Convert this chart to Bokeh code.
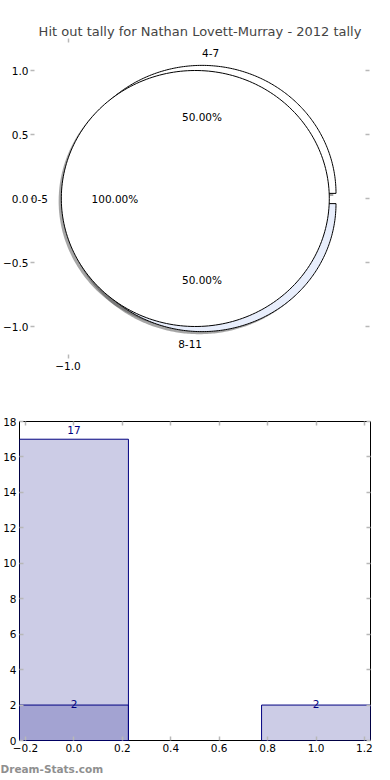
import numpy as np
from bokeh.plotting import figure
from bokeh.models import (ColumnDataSource, Range1d, FixedTicker, LinearAxis, Title,
                          LabelSet, CustomLabelingPolicy)
from bokeh.layouts import column, row
from bokeh.core.properties import value
from bokeh.embed import file_html
from bokeh.resources import INLINE

# ---------------- data ----------------
TITLE = "Hit out tally for Nathan Lovett-Murray - 2012 tally"
WATERMARK = "Dream-Stats.com"

inner_labels = ["0-5"]
inner_values = [1]
inner_colors = ["#ffffff"]
outer_labels = ["4-7", "8-11"]
outer_values = [1, 1]
outer_colors = ["#ffffff", "#e8eefc"]

bar_x = [0, 1]
bar_values = [17, 2]
overlay_x = [0]
overlay_values = [2]

pie_xticks = [-1.0]
pie_xtick_labels = ["\u22121.0"]
pie_yticks = [-1.0, -0.5, 0.0, 0.5, 1.0]
pie_ytick_labels = ["\u22121.0", "\u22120.5", "0.0", "0.5", "1.0"]

bar_xticks = [-0.2, 0.0, 0.2, 0.4, 0.6, 0.8, 1.0, 1.2]
bar_xtick_labels = ["\u22120.2", "0.0", "0.2", "0.4", "0.6", "0.8", "1.0", "1.2"]
bar_yticks = [0, 2, 4, 6, 8, 10, 12, 14, 16, 18]

# ---------------- style ----------------
FONT = "DejaVu Sans"
FS = "10.5px"
TICK_COLOR = "#b8b8b8"
INNER_EXPLODE = 0.05
OUTER_EXPLODE = 0.04
SHADOW = (-0.02, -0.02)
BAR_WIDTH = 0.45

NO_LABELS = CustomLabelingPolicy(code="for (const i of indices) { indices.unset(i) }; return indices")


def wedge_geometry(values, labels, colors, explode):
    total = float(sum(values))
    xs, ys, sxs, sys_ = [], [], [], []
    lab = dict(x=[], y=[], text=[], align=[])
    pct = dict(x=[], y=[], text=[])
    theta = 0.0
    for v, l in zip(values, labels):
        span = 360.0 * v / total
        t = np.radians(np.linspace(theta, theta + span, 240))
        mid = np.radians(theta + span / 2.0)
        cx, cy = explode * np.cos(mid), explode * np.sin(mid)
        if abs(span - 360.0) < 1e-9:
            px = cx + np.cos(t)
            py = cy + np.sin(t)
        else:
            px = np.concatenate([[cx], cx + np.cos(t), [cx]])
            py = np.concatenate([[cy], cy + np.sin(t), [cy]])
        xs.append(list(px)); ys.append(list(py))
        sxs.append(list(px + SHADOW[0])); sys_.append(list(py + SHADOW[1]))
        xt = cx + 1.1 * np.cos(mid)
        yt = cy + 1.1 * np.sin(mid)
        lab["x"].append(xt); lab["y"].append(yt); lab["text"].append(l)
        lab["align"].append("left" if xt > 0 else "right")
        pct["x"].append(cx + 0.6 * np.cos(mid)); pct["y"].append(cy + 0.6 * np.sin(mid))
        pct["text"].append("%.2f%%" % (100.0 * v / total))
        theta += span
    wedges = ColumnDataSource(dict(xs=xs, ys=ys, color=colors))
    shadows = ColumnDataSource(dict(xs=sxs, ys=sys_))
    return wedges, shadows, ColumnDataSource(lab), ColumnDataSource(pct)


def style_axis(ax, ticks, labels=None, show_labels=True):
    ax.ticker = FixedTicker(ticks=ticks)
    if labels is not None:
        ax.major_label_overrides = {t: s for t, s in zip(ticks, labels)}
    ax.axis_line_color = None
    ax.major_tick_in = 4
    ax.major_tick_out = 0
    ax.major_tick_line_color = TICK_COLOR
    ax.major_tick_line_width = 1.5
    ax.minor_tick_line_color = None
    ax.major_label_standoff = 3
    ax.major_label_text_font = FONT
    ax.major_label_text_color = "black"
    ax.major_label_text_font_size = FS
    if not show_labels:
        ax.major_label_policy = NO_LABELS
        ax.major_label_text_font_size = "0px"
        ax.major_label_standoff = 0


# ---------------- pie figure ----------------
pie = figure(width=390, height=395, output_backend="svg", toolbar_location=None,
             x_range=Range1d(-1.28, 1.25), y_range=Range1d(-1.25, 1.25),
             min_border_left=20, min_border_right=21, min_border_top=38, min_border_bottom=37)
pie.title.text = TITLE
pie.title.align = "center"
pie.title.text_font = FONT
pie.title.text_font_size = "13px"
pie.title.text_font_style = "normal"
pie.title.standoff = 0
pie.outline_line_color = None
pie.grid.visible = False
pie.background_fill_color = "white"
pie.border_fill_color = "white"

style_axis(pie.xaxis[0], pie_xticks, pie_xtick_labels)
style_axis(pie.yaxis[0], pie_yticks, pie_ytick_labels)
pie.yaxis[0].major_label_standoff = 2
top_ax = LinearAxis(); style_axis(top_ax, pie_xticks, show_labels=False)
right_ax = LinearAxis(); style_axis(right_ax, pie_yticks, show_labels=False)
pie.add_layout(top_ax, "above")
pie.add_layout(right_ax, "right")

o_w, o_s, o_lab, o_pct = wedge_geometry(outer_values, outer_labels, outer_colors, OUTER_EXPLODE)
i_w, i_s, i_lab, i_pct = wedge_geometry(inner_values, inner_labels, inner_colors, INNER_EXPLODE)

for s in (o_s, i_s):
    pie.patches("xs", "ys", source=s, fill_color="#4d4d4d", fill_alpha=0.5, line_color=None)
for w in (o_w, i_w):
    pie.patches("xs", "ys", source=w, fill_color="color", line_color="black", line_width=1)
for lab in (o_lab, i_lab):
    pie.add_layout(LabelSet(x="x", y="y", text="text", source=lab, text_align="align",
                            text_baseline="middle", text_font=value(FONT),
                            text_font_size=FS, text_color="black"))
for pct in (o_pct, i_pct):
    pie.add_layout(LabelSet(x="x", y="y", text="text", source=pct, text_align="center",
                            text_baseline="middle", text_font=value(FONT),
                            text_font_size=FS, text_color="black"))

# ---------------- bar figure ----------------
bar = figure(width=390, height=385, output_backend="svg", toolbar_location=None,
             x_range=Range1d(bar_x[0] - BAR_WIDTH / 2, bar_x[-1] + BAR_WIDTH / 2),
             y_range=Range1d(0, 18),
             min_border_left=19, min_border_right=20, min_border_top=26, min_border_bottom=40)
bar.outline_line_color = "black"
bar.outline_line_width = 1
bar.grid.visible = False
bar.background_fill_color = "white"
bar.border_fill_color = "white"
style_axis(bar.xaxis[0], bar_xticks, bar_xtick_labels)
style_axis(bar.yaxis[0], bar_yticks)
b_top = LinearAxis(); style_axis(b_top, bar_xticks, show_labels=False)
b_right = LinearAxis(); style_axis(b_right, bar_yticks, show_labels=False)
bar.add_layout(b_top, "above")
bar.add_layout(b_right, "right")

src_main = ColumnDataSource(dict(x=bar_x, top=bar_values,
                                 ly=[1.03 * v for v in bar_values],
                                 txt=[str(v) for v in bar_values]))
src_over = ColumnDataSource(dict(x=overlay_x, top=overlay_values,
                                 ly=[1.03 * v for v in overlay_values],
                                 txt=[str(v) for v in overlay_values]))
for src in (src_main, src_over):
    bar.vbar(x="x", top="top", width=BAR_WIDTH, source=src, fill_color="navy",
             fill_alpha=0.2, line_color="navy", line_width=1)
for src in (src_main, src_over):
    bar.text("x", "ly", text="txt", source=src, text_align="center", text_baseline="middle",
             text_font=value(FONT), text_font_size=FS, text_color="navy")

bar.add_layout(Title(text=WATERMARK, align="left", text_color="#8f8f8f", text_font=FONT,
                     text_font_size="10.5px", text_font_style="bold", offset=-19, standoff=12),
               "below")

layout = column(row(pie), row(bar))
open("out.html", "w").write(file_html(layout, INLINE))
